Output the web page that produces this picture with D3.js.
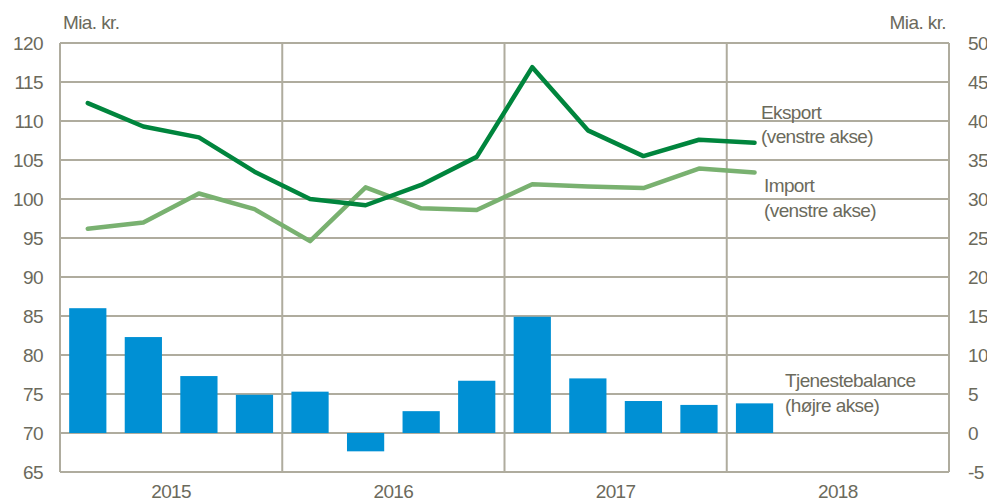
<!DOCTYPE html>
<html lang="da">
<head>
<meta charset="UTF-8">
<title>Tjenestebalance</title>
<script src="https://cdn.jsdelivr.net/npm/d3@7"></script>
<style>
  body { margin: 0; background: #fff; }
  text { font-family: "Liberation Sans", Arial, sans-serif; fill: #6b6a5c; }
</style>
</head>
<body>
<div id="output"></div>
<script>

// quarters 2015K1 .. 2018K4 (the last three are empty)
var quarters = ["2015K1","2015K2","2015K3","2015K4",
                "2016K1","2016K2","2016K3","2016K4",
                "2017K1","2017K2","2017K3","2017K4",
                "2018K1","2018K2","2018K3","2018K4"];
var years = ["2015", "2016", "2017", "2018"];

// mia. kr., venstre akse
var eksport = [112.3, 109.3, 107.9, 103.5, 100.0, 99.2, 101.8, 105.4, 116.9, 108.8, 105.5, 107.6, 107.2];
var importv = [96.2, 97.0, 100.7, 98.7, 94.6, 101.5, 98.8, 98.6, 101.9, 101.6, 101.4, 103.9, 103.4];
// mia. kr., højre akse
var balance = [16.0, 12.3, 7.3, 4.9, 5.3, -2.35, 2.8, 6.7, 14.9, 7.0, 4.1, 3.6, 3.8];

var leftTicks = d3.range(65, 121, 5);
var rightTicks = d3.range(-5, 51, 5);

var w = 987, h = 504;
var m = { left: 60, right: 38, top: 43, bottom: 32 };
var grid = "#afac9e";

var svg = d3.select("#output").append("svg")
    .attr("width", w).attr("height", h);

var x = d3.scaleBand()
    .domain(quarters)
    .range([m.left, w - m.right])
    .paddingInner(0.33)
    .paddingOuter(0.165);

var xq = d3.scaleLinear().domain([0, quarters.length]).range([m.left, w - m.right]);

var yL = d3.scaleLinear().domain([65, 120]).range([h - m.bottom, m.top]);
var yR = d3.scaleLinear().domain([-5, 50]).range([h - m.bottom, m.top]);

// horizontal gridlines
svg.append("g").selectAll("line")
    .data(leftTicks)
    .enter().append("line")
    .attr("x1", m.left).attr("x2", w - m.right)
    .attr("y1", d => yL(d)).attr("y2", d => yL(d))
    .attr("stroke", grid).attr("stroke-width", 2);

// year dividers + frame sides
svg.append("g").selectAll("line")
    .data(d3.range(0, quarters.length + 1, 4))
    .enter().append("line")
    .attr("x1", d => xq(d)).attr("x2", d => xq(d))
    .attr("y1", m.top).attr("y2", h - m.bottom)
    .attr("stroke", grid).attr("stroke-width", 2);

// bars
svg.append("g").selectAll("rect")
    .data(balance)
    .enter().append("rect")
    .attr("x", (d, i) => x(quarters[i]))
    .attr("width", x.bandwidth())
    .attr("y", d => yR(Math.max(0, d)))
    .attr("height", d => Math.abs(yR(d) - yR(0)))
    .attr("fill", "#0090d4");

var line = d3.line()
    .x((d, i) => x(quarters[i]) + x.bandwidth() / 2)
    .y(d => yL(d));

svg.append("path").datum(importv)
    .attr("d", line).attr("fill", "none")
    .attr("stroke", "#79b170").attr("stroke-width", 4.5)
    .attr("stroke-linecap", "round").attr("stroke-linejoin", "round");

svg.append("path").datum(eksport)
    .attr("d", line).attr("fill", "none")
    .attr("stroke", "#00853d").attr("stroke-width", 4.5)
    .attr("stroke-linecap", "round").attr("stroke-linejoin", "round");

// axes (labels only)
var fs = "19px";
svg.append("g").selectAll("text")
    .data(leftTicks)
    .enter().append("text")
    .attr("x", 43).attr("y", d => yL(d)).attr("dy", "0.36em")
    .attr("text-anchor", "end").style("font-size", fs)
    .style("letter-spacing", "-0.6px")
    .text(d => d);

svg.append("g").selectAll("text")
    .data(rightTicks)
    .enter().append("text")
    .attr("x", 968).attr("y", d => yR(d)).attr("dy", "0.36em")
    .style("font-size", fs).style("letter-spacing", "-0.6px")
    .text(d => d);

svg.append("g").selectAll("text")
    .data(years)
    .enter().append("text")
    .attr("x", (d, i) => xq(i * 4 + 2)).attr("y", 498)
    .attr("text-anchor", "middle").style("font-size", fs)
    .style("letter-spacing", "-0.6px")
    .text(d => d);

svg.append("text").attr("x", 63).attr("y", 29)
    .style("font-size", fs).style("letter-spacing", "-0.6px").text("Mia. kr.");
svg.append("text").attr("x", 946).attr("y", 29).attr("text-anchor", "end")
    .style("font-size", fs).style("letter-spacing", "-0.6px").text("Mia. kr.");

// series labels
var labels = [
    { t: "Eksport", x: 761, y: 119 },
    { t: "(venstre akse)", x: 761, y: 143 },
    { t: "Import", x: 764, y: 192 },
    { t: "(venstre akse)", x: 764, y: 217 },
    { t: "Tjenestebalance", x: 785, y: 387 },
    { t: "(højre akse)", x: 785, y: 412 }
];
svg.append("g").selectAll("text")
    .data(labels)
    .enter().append("text")
    .attr("x", d => d.x).attr("y", d => d.y)
    .style("font-size", fs).style("letter-spacing", "-0.6px")
    .text(d => d.t);

</script>
</body>
</html>
